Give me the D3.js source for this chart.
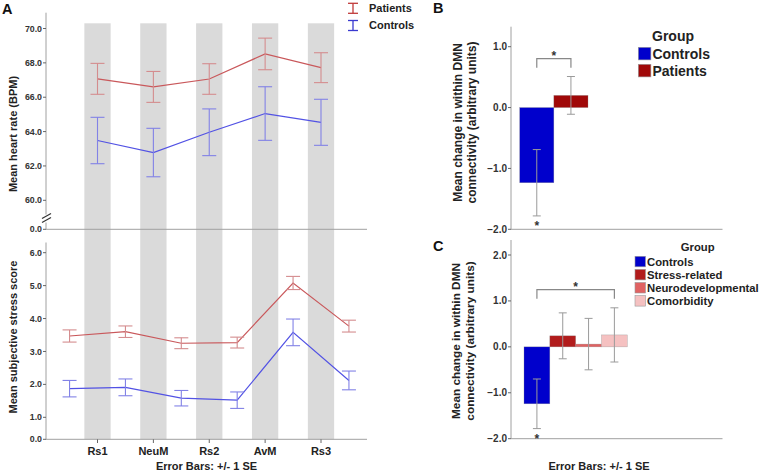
<!DOCTYPE html>
<html><head><meta charset="utf-8">
<script src="https://cdn.jsdelivr.net/npm/d3@7"></script>
<style>
body{margin:0;background:#fff;}
svg{font-family:"Liberation Sans",Arial,sans-serif;font-weight:bold;}
</style>
</head><body>
<svg id="c" width="761" height="473"></svg>
<script>
// ---------- DATA ----------
const conditions = ["Rs1","NeuM","Rs2","AvM","Rs3"];
const hrPatients   = [67.07, 66.60, 67.06, 68.52, 67.72];
const hrPatientsSE = [0.90, 0.90, 0.89, 0.92, 0.87];
const hrControls   = [63.48, 62.78, 63.96, 65.05, 64.54];
const hrControlsSE = [1.35, 1.41, 1.36, 1.56, 1.34];
const hrTicks = [0, 60, 62, 64, 66, 68, 70];

const stressPatients   = [3.47, 3.60, 3.25, 3.27, 5.08, 3.77];
const stressPatientsSE = [0.185, 0.175, 0.165, 0.165, 0.20, 0.18];
const stressControls   = [1.87, 1.91, 1.58, 1.52, 3.58, 2.12];
const stressControlsSE = [0.25, 0.255, 0.235, 0.25, 0.405, 0.285];
const stressTicks = [0, 1, 2, 3, 4, 5, 6];

const groupsB = ["Controls","Patients"];
const meanB   = [-1.235, 0.20];
const seB     = [0.545, 0.31];
const ticksB  = [-2, -1, 0, 1];

const groupsC = ["Controls","Stress-related","Neurodevelopmental","Comorbidity"];
const meanC   = [-1.24, 0.24, 0.06, 0.26];
const seC     = [0.54, 0.50, 0.56, 0.59];
const ticksC  = [-2, -1, 0, 1, 2];

// ---------- STYLE ----------
const colPat = "#c9585b", colPatEB = "#d48c8e";
const colCon = "#5252e4", colConEB = "#8282e6";
const colorsB = ["#0000cc","#a00808"];
const colorsC = ["#0000cc","#b21c1c","#e06262","#f5c1c1"];
const axisCol = "#a0a0a0", tickTxt = "#333";

const svg = d3.select("#c");
const fmt = d3.format(".1f");

// ---------- PANEL A ----------
const x = d3.scaleLinear().domain([0, 4]).range([97.5, 321]);
const bandW = 26.3;
const yHR = d3.scaleLinear().domain([0, 60, 70]).range([229.3, 200.3, 28.5]);
const yS = d3.scaleLinear().domain([0, 1, 6]).range([439.3, 417.3, 252.7]);

// gray bands
svg.append("g").selectAll("rect").data(conditions).join("rect")
  .attr("x", (d,i) => x(i) - bandW/2).attr("width", bandW)
  .attr("y", 23.3).attr("height", 439.3 - 23.3)
  .attr("fill", "#dadada");

function yAxisLeft(g, scale, ticks, x0, top, bottom, fs, tl){
  g.append("line").attr("x1",x0).attr("x2",x0).attr("y1",top).attr("y2",bottom)
    .attr("stroke",axisCol).attr("stroke-width",1);
  ticks.forEach(t => {
    g.append("line").attr("x1",x0-tl).attr("x2",x0).attr("y1",scale(t)).attr("y2",scale(t))
      .attr("stroke","#666").attr("stroke-width",1);
    g.append("text").attr("x",x0-tl-1).attr("y",scale(t)).attr("dy","0.35em")
      .attr("text-anchor","end").attr("font-size",fs).attr("fill",tickTxt).text(fmt(t));
  });
}

// top panel axes
const gA1 = svg.append("g");
gA1.append("line").attr("x1",46).attr("x2",46).attr("y1",12.7).attr("y2",214.5).attr("stroke",axisCol);
gA1.append("line").attr("x1",46).attr("x2",46).attr("y1",222.5).attr("y2",229.3).attr("stroke",axisCol);
hrTicks.forEach(t => {
  gA1.append("line").attr("x1",43).attr("x2",46).attr("y1",yHR(t)).attr("y2",yHR(t)).attr("stroke","#666");
  gA1.append("text").attr("x",42).attr("y",yHR(t)).attr("dy","0.35em").attr("text-anchor","end")
    .attr("font-size",8.8).attr("fill",tickTxt).text(fmt(t));
});
gA1.append("line").attr("x1",42).attr("y1",218.5).attr("x2",51).attr("y2",213.5).attr("stroke","#333").attr("stroke-width",1.2);
gA1.append("line").attr("x1",42).attr("y1",222.5).attr("x2",51).attr("y2",217.5).attr("stroke","#333").attr("stroke-width",1.2);
gA1.append("line").attr("x1",46).attr("x2",367).attr("y1",229.3).attr("y2",229.3).attr("stroke",axisCol);

// bottom panel axes
const gA2 = svg.append("g");
yAxisLeft(gA2, yS, stressTicks, 46, 242.5, 439.3, 8.8, 3);
gA2.append("line").attr("x1",46).attr("x2",367).attr("y1",439.3).attr("y2",439.3).attr("stroke",axisCol);
conditions.forEach((c,i) => {
  gA2.append("line").attr("x1",x(i)).attr("x2",x(i)).attr("y1",439.3).attr("y2",443).attr("stroke","#666");
  gA2.append("text").attr("x",x(i)).attr("y",455).attr("text-anchor","middle")
    .attr("font-size",11).attr("fill","#222").text(c);
});

function series(g, xs, vals, se, yScale, col, ebCol){
  const line = d3.line().x((d,i)=>xs[i]).y(d=>yScale(d));
  g.append("path").datum(vals).attr("d", line).attr("fill","none").attr("stroke",col).attr("stroke-width",1.2);
  vals.forEach((v,i) => {
    const lo = yScale(v - se[i]), hi = yScale(v + se[i]);
    g.append("line").attr("x1",xs[i]).attr("x2",xs[i]).attr("y1",lo).attr("y2",hi).attr("stroke",ebCol).attr("stroke-width",1.1);
    [lo,hi].forEach(yy => g.append("line").attr("x1",xs[i]-7).attr("x2",xs[i]+7).attr("y1",yy).attr("y2",yy)
      .attr("stroke",ebCol).attr("stroke-width",1.1));
  });
}
const xsHR = conditions.map((c,i) => x(i));
const xsS = stressPatients.map((v,i) => x(i - 0.5));
series(svg.append("g"), xsHR, hrPatients, hrPatientsSE, yHR, colPat, colPatEB);
series(svg.append("g"), xsHR, hrControls, hrControlsSE, yHR, colCon, colConEB);
series(svg.append("g"), xsS, stressPatients, stressPatientsSE, yS, colPat, colPatEB);
series(svg.append("g"), xsS, stressControls, stressControlsSE, yS, colCon, colConEB);

// legend A
const legA = svg.append("g");
[["Patients","#c03a3a",8.3],["Controls","#3a3ad0",25.5]].forEach(([t,c,cy]) => {
  legA.append("line").attr("x1",353).attr("x2",353).attr("y1",cy-5).attr("y2",cy+5).attr("stroke",c).attr("stroke-width",1.3);
  legA.append("line").attr("x1",348).attr("x2",358).attr("y1",cy-5).attr("y2",cy-5).attr("stroke",c).attr("stroke-width",1.3);
  legA.append("line").attr("x1",348).attr("x2",358).attr("y1",cy+5).attr("y2",cy+5).attr("stroke",c).attr("stroke-width",1.3);
  legA.append("text").attr("x",369).attr("y",cy).attr("dy","0.35em").attr("font-size",11).attr("fill","#222").text(t);
});

// axis titles A
svg.append("text").attr("transform","translate(17,134) rotate(-90)").attr("text-anchor","middle")
  .attr("font-size",11).attr("fill","#222").text("Mean heart rate (BPM)");
svg.append("text").attr("transform","translate(17,337) rotate(-90)").attr("text-anchor","middle")
  .attr("font-size",11).attr("fill","#222").text("Mean subjective stress score");
svg.append("text").attr("x",206.5).attr("y",470).attr("text-anchor","middle")
  .attr("font-size",11).attr("fill","#222").text("Error Bars: +/- 1 SE");
svg.append("text").attr("x",2).attr("y",14).attr("font-size",14.5).attr("fill","#111").text("A");

// ---------- PANELS B & C ----------
function barPanel(opt){
  const g = svg.append("g");
  const y = d3.scaleLinear().domain(opt.domain).range(opt.range);
  const xb = d3.scaleBand().domain(opt.groups).range(opt.xr).padding(0);
  yAxisLeft(g, y, opt.ticks, 511, opt.top, opt.range[0], 10, 3);
  g.append("line").attr("x1",511).attr("x2",722.5).attr("y1",opt.range[0]).attr("y2",opt.range[0]).attr("stroke",axisCol);
  g.selectAll("rect.bar").data(opt.groups).join("rect").attr("class","bar")
    .attr("x", d => xb(d)).attr("width", xb.bandwidth())
    .attr("y", (d,i) => y(Math.max(0, opt.mean[i])))
    .attr("height", (d,i) => Math.abs(y(opt.mean[i]) - y(0)))
    .attr("fill", (d,i) => opt.colors[i]).attr("stroke", "#888").attr("stroke-width", 0.5).attr("stroke-opacity",0.6);
  opt.groups.forEach((gname,i) => {
    const cx = xb(gname) + xb.bandwidth()/2;
    const lo = y(opt.mean[i] - opt.se[i]), hi = y(opt.mean[i] + opt.se[i]);
    g.append("line").attr("x1",cx).attr("x2",cx).attr("y1",lo).attr("y2",hi).attr("stroke","#9a9a9a").attr("stroke-width",1);
    [lo,hi].forEach(yy => g.append("line").attr("x1",cx-4).attr("x2",cx+4).attr("y1",yy).attr("y2",yy)
      .attr("stroke","#9a9a9a").attr("stroke-width",1));
  });
  // significance bracket
  const c0 = xb(opt.groups[0]) + xb.bandwidth()/2;
  const c1 = xb(opt.groups[opt.groups.length-1]) + xb.bandwidth()/2;
  g.append("path").attr("d", `M${c0},${opt.brY+9}V${opt.brY}H${c1}V${opt.brY+9}`)
    .attr("fill","none").attr("stroke","#888").attr("stroke-width",1.2);
  g.append("text").attr("x",(c0+c1)/2).attr("y",opt.brY+1).attr("text-anchor","middle")
    .attr("font-size",12).attr("fill","#333").text("*");
  g.append("text").attr("x",c0).attr("y",y(opt.mean[0]-opt.se[0])+14).attr("text-anchor","middle")
    .attr("font-size",12).attr("fill","#333").text("*");
  // y title
  g.append("text").attr("transform",`translate(${opt.titleX},${opt.titleY}) rotate(-90)`).attr("text-anchor","middle")
    .attr("font-size",opt.titleFs).attr("fill","#222")
    .selectAll("tspan").data(["Mean change in within DMN","connectivity (arbitrary units)"]).join("tspan")
    .attr("x",0).attr("dy",(d,i)=> i ? "1.18em" : 0).text(d=>d);
  g.append("text").attr("x",433).attr("y",opt.letterY).attr("font-size",14.5).attr("fill","#111").text(opt.letter);
  // legend
  const L = opt.legend;
  g.append("text").attr("x",L.titleX).attr("y",L.titleY).attr("text-anchor","middle").attr("dy","0.35em")
    .attr("font-size",L.fs).attr("fill","#222").text("Group");
  opt.groups.forEach((gname,i) => {
    const yy = L.y0 + i*L.step;
    g.append("rect").attr("x",L.x).attr("y",yy).attr("width",L.sz).attr("height",L.sz)
      .attr("fill",opt.colors[i]).attr("stroke","#999").attr("stroke-width",0.6);
    g.append("text").attr("x",L.x+L.sz+1.5).attr("y",yy+L.sz/2).attr("dy","0.36em")
      .attr("font-size",L.fs).attr("fill","#222").text(gname);
  });
}

barPanel({
  groups: groupsB, mean: meanB, se: seB, ticks: ticksB, colors: colorsB,
  domain: [-2, 1], range: [229.3, 46.7], top: 26.7, xr: [519.7, 588],
  brY: 58.7, titleX: 462, titleY: 122.5, titleFs: 12, letter: "B", letterY: 12.5,
  legend: {titleX: 673, titleY: 36, x: 638.3, y0: 47.3, step: 17, sz: 12.6, fs: 14}
});
barPanel({
  groups: groupsC, mean: meanC, se: seC, ticks: ticksC, colors: colorsC,
  domain: [-2, 2], range: [438.7, 255], top: 240, xr: [524, 627.3],
  brY: 289.7, titleX: 460, titleY: 341, titleFs: 11.8, letter: "C", letterY: 251,
  legend: {titleX: 697.7, titleY: 246.7, x: 635, y0: 256.3, step: 13.1, sz: 10.5, fs: 11.3}
});
svg.append("text").attr("x",599).attr("y",470).attr("text-anchor","middle")
  .attr("font-size",11).attr("fill","#222").text("Error Bars: +/- 1 SE");
</script>
</body></html>
